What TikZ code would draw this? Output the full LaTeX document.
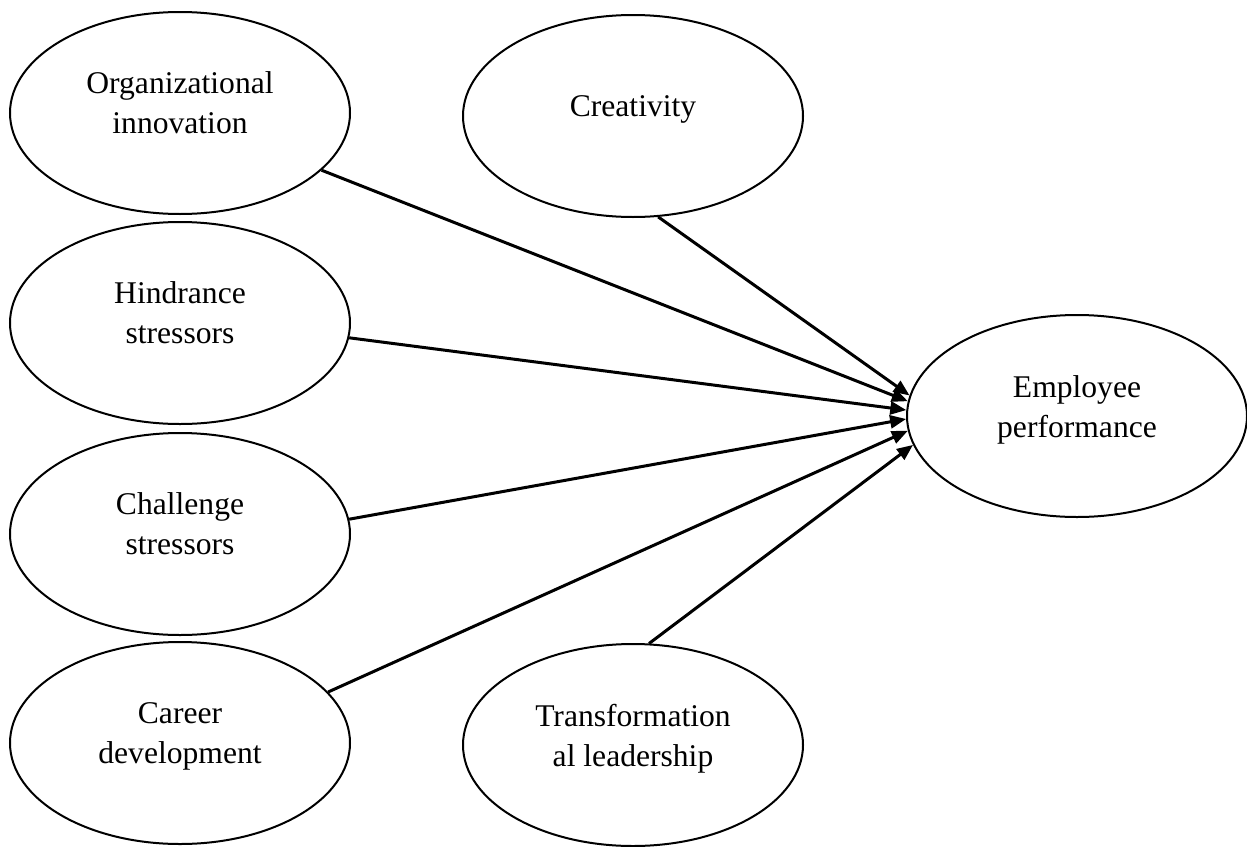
\documentclass[tikz,border=0pt]{standalone}
\usepackage{fontspec}
\setmainfont{Liberation Serif}
\usetikzlibrary{shapes.geometric,arrows.meta}
\begin{document}
\begin{tikzpicture}[x=0.5pt,y=-0.5pt,
  oval/.style={draw=black,line width=1pt,ellipse,minimum width=170pt,minimum height=101pt,inner sep=0pt},
  lbl/.style={align=center,inner sep=0pt,font=\fontsize{15.8pt}{20pt}\selectfont},
  conn/.style={draw=black,line width=1.5pt,-{Triangle[length=8pt,width=6.5pt]}}]
\useasboundingbox (0,0) rectangle (1247,846);
\node[oval] (org) at (180,113) {};
\node[oval] (hin) at (180,323) {};
\node[oval] (cha) at (180,534) {};
\node[oval] (car) at (180,743) {};
\node[oval] (cre) at (633,116) {};
\node[oval] (tra) at (633,745) {};
\node[oval] (emp) at (1077,416) {};
\node[lbl] (orgt) at ([yshift=4pt]org.center) {\strut Organizational\\\strut innovation};
\node[lbl] (hint) at ([yshift=4pt]hin.center) {\strut Hindrance\\\strut stressors};
\node[lbl] (chat) at ([yshift=4pt]cha.center) {\strut Challenge\\\strut stressors};
\node[lbl] (cart) at ([yshift=4pt]car.center) {\strut Career\\\strut development};
\node[lbl] (cret) at ([yshift=4pt]cre.center) {\strut Creativity};
\node[lbl] (trat) at ([yshift=3.5pt]tra.center) {\strut Transformation\\\strut al leadership};
\node[lbl] (empt) at ([yshift=3.5pt]emp.center) {\strut Employee\\\strut performance};
\draw[conn] (cre.284.8) -- (emp.173.3);
\draw[conn] (org.338.3) -- (emp.175.6);
\draw[conn] (hin.355.3) -- (emp.178.7);
\draw[conn] (cha.5.4) -- (emp.181.3);
\draw[conn] (car.19) -- (emp.185.7);
\draw[conn] (tra.81.5) -- (emp.190.5);
\end{tikzpicture}
\end{document}
